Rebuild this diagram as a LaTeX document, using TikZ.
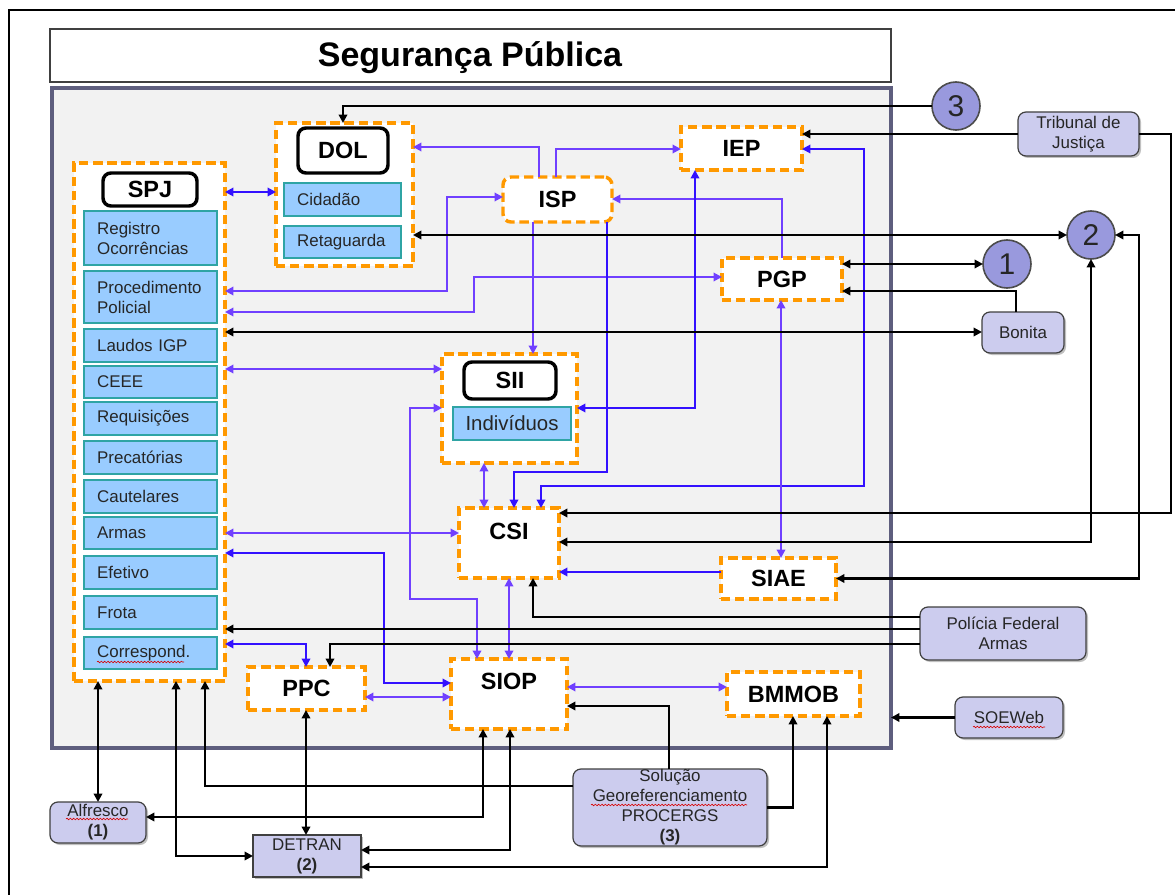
\documentclass[tikz,border=0pt]{standalone}
\usepackage{fontspec}
\setmainfont{Liberation Sans}
\usetikzlibrary{arrows.meta,shadows,decorations.pathmorphing}
\definecolor{cOrng}{RGB}{255,153,0}
\definecolor{cVio}{RGB}{112,64,255}
\definecolor{cBlu}{RGB}{51,17,255}
\definecolor{cItem}{RGB}{153,204,255}
\definecolor{cItemD}{RGB}{47,164,164}
\definecolor{cExt}{RGB}{204,204,238}
\definecolor{cCirc}{RGB}{153,153,221}
\definecolor{cPanel}{RGB}{242,242,242}
\definecolor{cPanelD}{RGB}{94,94,126}
\newcommand\bx[7]{\node[#6, minimum width={(#4-#2)*0.75pt}, minimum height={(#5-#3)*0.75pt}] (#1) at ({(#2+#4)/2},{(#3+#5)/2}) {#7};}
\begin{document}
\begin{tikzpicture}[x=0.75pt,y=-0.75pt,
  >={Triangle[length=6.3pt,width=6.3pt]},
  every node/.style={outer sep=0pt, inner sep=0pt},
  panelst/.style={draw=cPanelD, line width=2.4pt, fill=cPanel},
  titlest/.style={draw=black!75, line width=0.9pt, fill=white},
  titletext/.style={font=\fontsize{25.5}{30}\selectfont\bfseries},
  orangebox/.style={draw=cOrng, line width=2.6pt, dash pattern=on 7pt off 3.6pt, fill=white, font=\fontsize{17.6}{20}\selectfont\bfseries},
  labelbox/.style={draw=black, line width=2.6pt, rounded corners=6pt, fill=white, font=\fontsize{17.6}{20}\selectfont\bfseries},
  itembox/.style={draw=cItemD, line width=1.1pt, fill=cItem, font=\fontsize{12.7}{15}\selectfont, text=black!85, align=left, text width=#1, inner xsep=9.75pt},
  itemc/.style={draw=cItemD, line width=1.1pt, fill=cItem, font=\fontsize{15.3}{17}\selectfont, text=black!85},
  ext/.style={draw=black!75, line width=0.9pt, fill=cExt, rounded corners=6pt, align=center, font=\fontsize{12.7}{15}\selectfont, text=black!85, drop shadow={shadow xshift=1.5pt, shadow yshift=-1.5pt, opacity=0.35, fill=black!70}},
  circ/.style={circle, draw=black!70, line width=1.2pt, fill=cCirc, minimum size=36pt, font=\fontsize{22.5}{24}\selectfont, text=black!85},
  bold/.style={font=\fontsize{17.6}{20}\selectfont\bfseries},
  blk/.style={draw=black, line width=1.7pt},
  vioc/.style={draw=cVio, line width=1.5pt},
  bluc/.style={draw=cBlu, line width=1.5pt},
  squig/.style={draw=red!85!black, line width=0.45pt, decorate, decoration={snake, amplitude=0.6pt, segment length=2.5pt}}
]
\useasboundingbox (0,0) rectangle (1175,895);
\fill[white] (0,0) rectangle (1175,895);
\draw[line width=2pt] (9,910) -- (9,10) -- (1190,10);

% containers
\bx{panel}{52}{88}{891}{748}{panelst}{}
\bx{title}{50}{29}{891}{82}{titlest}{}
\node[titletext] (titlet) at (470,58) {Segurança Pública};

% SPJ
\bx{spj}{74}{163}{225}{681}{orangebox}{}
\bx{spjl}{103}{173}{197}{206}{labelbox}{SPJ}
\bx{reg}{84}{211}{217}{265}{itembox=80pt}{Registro\\Ocorrências}
\bx{proc}{84}{271}{217}{323}{itembox=80pt}{Procedimento\\Policial}
\bx{laud}{84}{329}{217}{362}{itembox=80pt}{Laudos IGP}
\bx{ceee}{84}{366}{217}{398}{itembox=80pt}{CEEE}
\bx{req}{84}{402}{217}{435}{itembox=80pt}{Requisições}
\bx{prec}{84}{441}{217}{474}{itembox=80pt}{Precatórias}
\bx{caut}{84}{480}{217}{513}{itembox=80pt}{Cautelares}
\bx{arm}{84}{517}{217}{549}{itembox=80pt}{Armas}
\bx{efet}{84}{556}{217}{589}{itembox=80pt}{Efetivo}
\bx{frota}{84}{596}{217}{629}{itembox=80pt}{Frota}
\bx{corr}{84}{637}{217}{669}{itembox=80pt}{Correspond.}

% DOL
\bx{dol}{276}{123}{413}{266}{orangebox}{}
\bx{doll}{298}{128}{388}{173}{labelbox}{DOL}
\bx{cid}{284}{183}{401}{216}{itembox=68pt}{Cidadão}
\bx{ret}{284}{226}{401}{258}{itembox=68pt}{Retaguarda}

% other systems
\bx{isp}{503}{177}{612}{222}{orangebox,rounded corners=6pt}{ISP}
\bx{iep}{681}{127}{802}{170}{orangebox}{IEP}
\bx{pgp}{722}{258}{842}{300}{orangebox}{PGP}
\bx{sii}{442}{354}{577}{463}{orangebox}{}
\bx{siil}{464}{362}{556}{399}{labelbox}{SII}
\bx{indiv}{453}{407}{571}{440}{itemc}{Indivíduos}
\bx{csi}{459}{508}{559}{578}{orangebox}{}
\node[bold] (csit) at (509,531) {CSI};
\bx{siae}{721}{558}{836}{599}{orangebox}{SIAE}
\bx{ppc}{248}{667}{365}{710}{orangebox}{PPC}
\bx{siop}{451}{659}{567}{729}{orangebox}{}
\node[bold] (siopt) at (509,681) {SIOP};
\bx{bmmob}{727}{672}{860}{716}{orangebox}{BMMOB}

% circles
\node[circ] (c3) at (956,106) {3};
\node[circ] (c2) at (1091,235) {2};
\node[circ] (c1) at (1007,264) {1};

% external
\bx{trib}{1018}{112}{1139}{156}{ext}{Tribunal de\\Justiça}
\bx{bon}{982}{312}{1064}{353}{ext}{Bonita}
\bx{pf}{920}{607}{1086}{660}{ext}{Polícia Federal\\Armas}
\bx{soe}{955}{697}{1063}{738}{ext}{SOEWeb}
\bx{sol}{573}{769}{767}{846}{ext}{Solução\\Georeferenciamento\\PROCERGS\\\textbf{(3)}}
\bx{alf}{50}{802}{146}{843}{ext}{Alfresco\\\textbf{(1)}}
\bx{det}{253}{835}{361}{877}{ext,sharp corners}{DETRAN\\\textbf{(2)}}

% spell-check marks
\draw[squig] (97,662) -- (184,662);
\draw[squig] (66,819) -- (128,819);
\draw[squig] (973,727) -- (1045,727);
\draw[squig] (591,805) -- (747,805);

% violet / blue connectors
\draw[bluc,<->] (spj.east |- 0,192) -- (dol.west |- 0,192);
\draw[vioc,->] (539,0 |- isp.north) |- (dol.east |- 0,147);
\draw[vioc,->] (556,0 |- isp.north) |- (iep.west |- 0,149);
\draw[vioc,<->] (spj.east |- 0,291) -- (447,291) -- (447,197) -- (isp.west |- 0,197);
\draw[vioc,<->] (spj.east |- 0,312) -- (474,312) -- (474,277) -- (pgp.west |- 0,277);
\draw[vioc,->] (782,0 |- pgp.north) |- (isp.east |- 0,199);
\draw[vioc,->] (533,0 |- isp.south) -- (533,0 |- sii.north);
\draw[bluc,->] (607,0 |- isp.south) -- (607,472) -- (514,472) -- (514,0 |- csi.north);
\draw[bluc,<->] (695,0 |- iep.south) |- (sii.east |- 0,408);
\draw[bluc,<->] (541,0 |- csi.north) -- (541,486) -- (864,486) -- (864,149) -- (iep.east |- 0,149);
\draw[vioc,<->] (781,0 |- pgp.south) -- (781,0 |- siae.north);
\draw[bluc,->] (siae.west |- 0,572) -- (csi.east |- 0,572);
\draw[vioc,<->] (spj.east |- 0,369) -- (sii.west |- 0,369);
\draw[vioc,<->] (spj.east |- 0,533) -- (csi.west |- 0,533);
\draw[bluc,<->] (spj.east |- 0,553) -- (384,553) -- (384,683) -- (siop.west |- 0,683);
\draw[vioc,<->] (sii.west |- 0,408) -- (410,408) -- (410,599) -- (477,599) -- (477,0 |- siop.north);
\draw[vioc,<->] (484,0 |- sii.south) -- (484,0 |- csi.north);
\draw[vioc,<->] (509,0 |- csi.south) -- (509,0 |- siop.north);
\draw[bluc,<->] (spj.east |- 0,644) -| (306,0 |- ppc.north);
\draw[vioc,<->] (ppc.east |- 0,697) -- (siop.west |- 0,697);
\draw[vioc,<->] (siop.east |- 0,687) -- (bmmob.west |- 0,687);

% black connectors
\draw[blk,->] (c3.west) -| (343,0 |- dol.north);
\draw[blk,->] (trib.west) -- (iep.east |- trib.west);
\draw[blk,->] (trib.east) -- (1171,134) -- (1171,513) -- (csi.east |- 0,513);
\draw[blk,<->] (dol.east |- c2.west) -- (c2.west);
\draw[blk,<->] (pgp.east |- c1.west) -- (c1.west);
\draw[blk,->] (1016,0 |- bon.north) |- (pgp.east |- 0,291);
\draw[blk,<->] (spj.east |- 0,332) -- (bon.west |- 0,332);
\draw[blk,<->] (c2.south) |- (csi.east |- 0,542);
\draw[blk,<->] (siae.east) -| (1139,235) -- (c2.east);
\draw[blk,->] (pf.west |- 0,617) -| (533,0 |- csi.south);
\draw[blk,->] (pf.west |- 0,629) -- (spj.east |- 0,629);
\draw[blk,->] (pf.west |- 0,644) -| (330,0 |- ppc.north);
\draw[blk,->] (soe.west) -- (panel.east |- soe.west);
\draw[blk,->] (669,0 |- sol.north) |- (siop.east |- 0,706);
\draw[blk,->] (sol.east) -| (793,0 |- bmmob.south);
\draw[blk,<->] (det.east |- 0,867) -| (827,0 |- bmmob.south);
\draw[blk,->] (sol.west |- 0,786) -| (205,0 |- spj.south);
\draw[blk,<->] (98,0 |- spj.south) -- (98,0 |- alf.north);
\draw[blk,<->] (alf.east |- 0,817) -| (483,0 |- siop.south);
\draw[blk,<->] (det.east |- 0,850) -| (510,0 |- siop.south);
\draw[blk,<->] (176,0 |- spj.south) |- (det.west |- 0,856);
\draw[blk,<->] (306,0 |- ppc.south) -- (306,0 |- det.north);
\end{tikzpicture}
\end{document}
